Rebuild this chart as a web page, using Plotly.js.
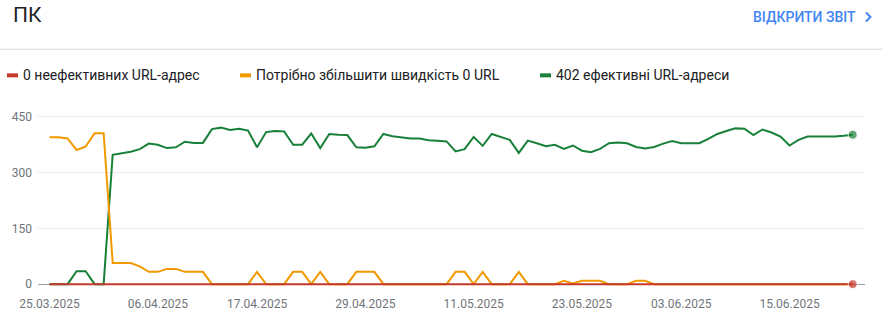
<!DOCTYPE html>
<html>
<head>
<meta charset="utf-8">
<script src="https://cdn.plot.ly/plotly-3.0.1.min.js"></script>
<style>
html,body{margin:0;padding:0;background:#fff;}
#chart{width:883px;height:316px;}
</style>
</head>
<body>
<div id="chart"></div>
<script>
// ---- data ----
const dates = [
 '2025-03-25','2025-03-26','2025-03-27','2025-03-28','2025-03-29','2025-03-30','2025-03-31',
 '2025-04-01','2025-04-02','2025-04-03','2025-04-04','2025-04-05','2025-04-06','2025-04-07','2025-04-08','2025-04-09','2025-04-10',
 '2025-04-11','2025-04-12','2025-04-13','2025-04-14','2025-04-15','2025-04-16','2025-04-17','2025-04-18','2025-04-19','2025-04-20',
 '2025-04-21','2025-04-22','2025-04-23','2025-04-24','2025-04-25','2025-04-26','2025-04-27','2025-04-28','2025-04-29','2025-04-30',
 '2025-05-01','2025-05-02','2025-05-03','2025-05-04','2025-05-05','2025-05-06','2025-05-07','2025-05-08','2025-05-09','2025-05-10',
 '2025-05-11','2025-05-12','2025-05-13','2025-05-14','2025-05-15','2025-05-16','2025-05-17','2025-05-18','2025-05-19','2025-05-20',
 '2025-05-21','2025-05-22','2025-05-23','2025-05-24','2025-05-25','2025-05-26','2025-05-27','2025-05-28','2025-05-29','2025-05-30','2025-05-31',
 '2025-06-01','2025-06-02','2025-06-03','2025-06-04','2025-06-05','2025-06-06','2025-06-07','2025-06-08','2025-06-09','2025-06-10',
 '2025-06-11','2025-06-12','2025-06-13','2025-06-14','2025-06-15','2025-06-16','2025-06-17','2025-06-18','2025-06-19','2025-06-20',
 '2025-06-21','2025-06-22'
];
const goodUrls = [
 0,0,0,35,35,0,0,348,351,356,
 363,378,375,366,368,383,380,380,417,421,
 415,418,413,368,409,412,411,375,375,405,
 366,404,402,401,368,367,371,404,398,395,
 392,392,387,386,384,357,363,396,372,404,
 397,388,353,386,379,371,375,364,373,359,
 355,364,379,381,379,369,365,369,378,385,
 379,379,379,391,404,412,419,418,401,416,
 408,397,373,388,397,397,396,397,399,402
];
const improveUrls = [
 395,395,392,361,370,406,406,57,57,57,
 48,33,33,41,41,33,33,33,0,0,
 0,0,0,33,0,0,0,33,33,0,
 33,0,0,0,33,33,33,0,0,0,
 0,0,0,0,0,33,33,0,33,0,
 0,0,33,0,0,0,0,9,2,9,
 9,9,0,0,0,9,9,0,0,0,
 0,0,0,0,0,0,0,0,0,0,
 0,0,0,0,0,0,0,0,0,0
];
const poorUrls = [
 0,0,0,0,0,0,0,0,0,0,
 0,0,0,0,0,0,0,0,0,0,
 0,0,0,0,0,0,0,0,0,0,
 0,0,0,0,0,0,0,0,0,0,
 0,0,0,0,0,0,0,0,0,0,
 0,0,0,0,0,0,0,0,0,0,
 0,0,0,0,0,0,0,0,0,0,
 0,0,0,0,0,0,0,0,0,0,
 0,0,0,0,0,0,0,0,0,0
];
const seriesNames = ['0 неефективних URL-адрес','Потрібно збільшити швидкість 0 URL','402 ефективні URL-адреси'];
const tickDates = ['2025-03-25','2025-04-06','2025-04-17','2025-04-29','2025-05-11','2025-05-23','2025-06-03','2025-06-15'];
const tickLabels = ['25.03.2025','06.04.2025','17.04.2025','29.04.2025','11.05.2025','23.05.2025','03.06.2025','15.06.2025'];
const yTicks = [0,150,300,450];
const chartTitle = 'ПК';
const linkText = 'ВІДКРИТИ ЗВІТ';

// ---- styles / layout ----
const RED = '#c5392b', ORANGE = '#f29900', GREEN = '#188038';
const FONT = 'Roboto, Arial, sans-serif';
const W = 883, H = 316;
const ML = 38, MR = 18, MT = 115.45, MB = 30.45;
const PW = W - ML - MR, PH = H - MT - MB;
const px = x => (x - ML) / PW;
const py = y => (H - MB - y) / PH;

const lastSizes = dates.map((d, i) => i === dates.length - 1 ? 9 : 0);

const traces = [
  {x: dates, y: goodUrls, name: seriesNames[2], type: 'scatter', mode: 'lines+markers',
   line: {color: GREEN, width: 2}, marker: {color: GREEN, size: lastSizes}, cliponaxis: false, showlegend: false},
  {x: dates, y: improveUrls, name: seriesNames[1], type: 'scatter', mode: 'lines',
   line: {color: ORANGE, width: 2}, showlegend: false},
  {x: dates, y: poorUrls, name: seriesNames[0], type: 'scatter', mode: 'lines+markers',
   line: {color: RED, width: 2}, marker: {color: RED, size: lastSizes}, cliponaxis: false, showlegend: false}
];

const legendItems = [
  {color: RED, x0: 7, text: seriesNames[0]},
  {color: ORANGE, x0: 240, text: seriesNames[1]},
  {color: GREEN, x0: 540, text: seriesNames[2]}
];
const legY = 76;

const shapes = [
  {type: 'line', xref: 'paper', yref: 'paper', x0: px(0), x1: px(W), y0: py(50), y1: py(50),
   line: {color: '#dadce0', width: 1}},
  {type: 'path', xref: 'paper', yref: 'paper',
   path: `M${px(866)},${py(13.5)} L${px(870.5)},${py(18)} L${px(866)},${py(22.5)}`,
   line: {color: '#4285f4', width: 2}}
];
legendItems.forEach(it => shapes.push({type: 'line', xref: 'paper', yref: 'paper',
  x0: px(it.x0), x1: px(it.x0 + 11), y0: py(legY), y1: py(legY), line: {color: it.color, width: 4}}));

const annotations = [
  {text: chartTitle, xref: 'paper', yref: 'paper', x: px(11), y: py(16), xanchor: 'left', yanchor: 'middle',
   showarrow: false, font: {family: FONT, size: 21, color: '#202124'}},
  {text: linkText, xref: 'paper', yref: 'paper', x: px(858), y: py(18), xanchor: 'right', yanchor: 'middle',
   showarrow: false, font: {family: FONT, size: 14, color: '#4285f4', weight: 500}}
];
legendItems.forEach(it => annotations.push({text: it.text, xref: 'paper', yref: 'paper',
  x: px(it.x0 + 14), y: py(legY), xanchor: 'left', yanchor: 'middle', showarrow: false,
  font: {family: FONT, size: 14, color: '#202124'}}));

const layout = {
  width: W, height: H,
  margin: {l: ML, r: MR, t: MT, b: MB, pad: 0},
  paper_bgcolor: '#fff', plot_bgcolor: '#fff',
  font: {family: FONT, size: 12, color: '#70757a'},
  showlegend: false,
  xaxis: {
    type: 'date', range: ['2025-03-23 17:24', '2025-06-23 08:43'],
    tickmode: 'array', tickvals: tickDates, ticktext: tickLabels,
    showgrid: false, zeroline: false, showline: false,
    ticks: '', ticklabelstandoff: 9,
    tickfont: {family: FONT, size: 12, color: '#70757a'}
  },
  yaxis: {
    range: [-5, 455], tickmode: 'array', tickvals: yTicks,
    showgrid: true, gridcolor: '#e8eaed', gridwidth: 1,
    zeroline: true, zerolinecolor: '#9aa0a6', zerolinewidth: 1,
    showline: false, ticks: '', ticklabelstandoff: 5,
    tickfont: {family: FONT, size: 12, color: '#70757a'}
  },
  shapes: shapes,
  annotations: annotations
};

Plotly.newPlot('chart', traces, layout, {staticPlot: true, displayModeBar: false});
</script>
</body>
</html>
